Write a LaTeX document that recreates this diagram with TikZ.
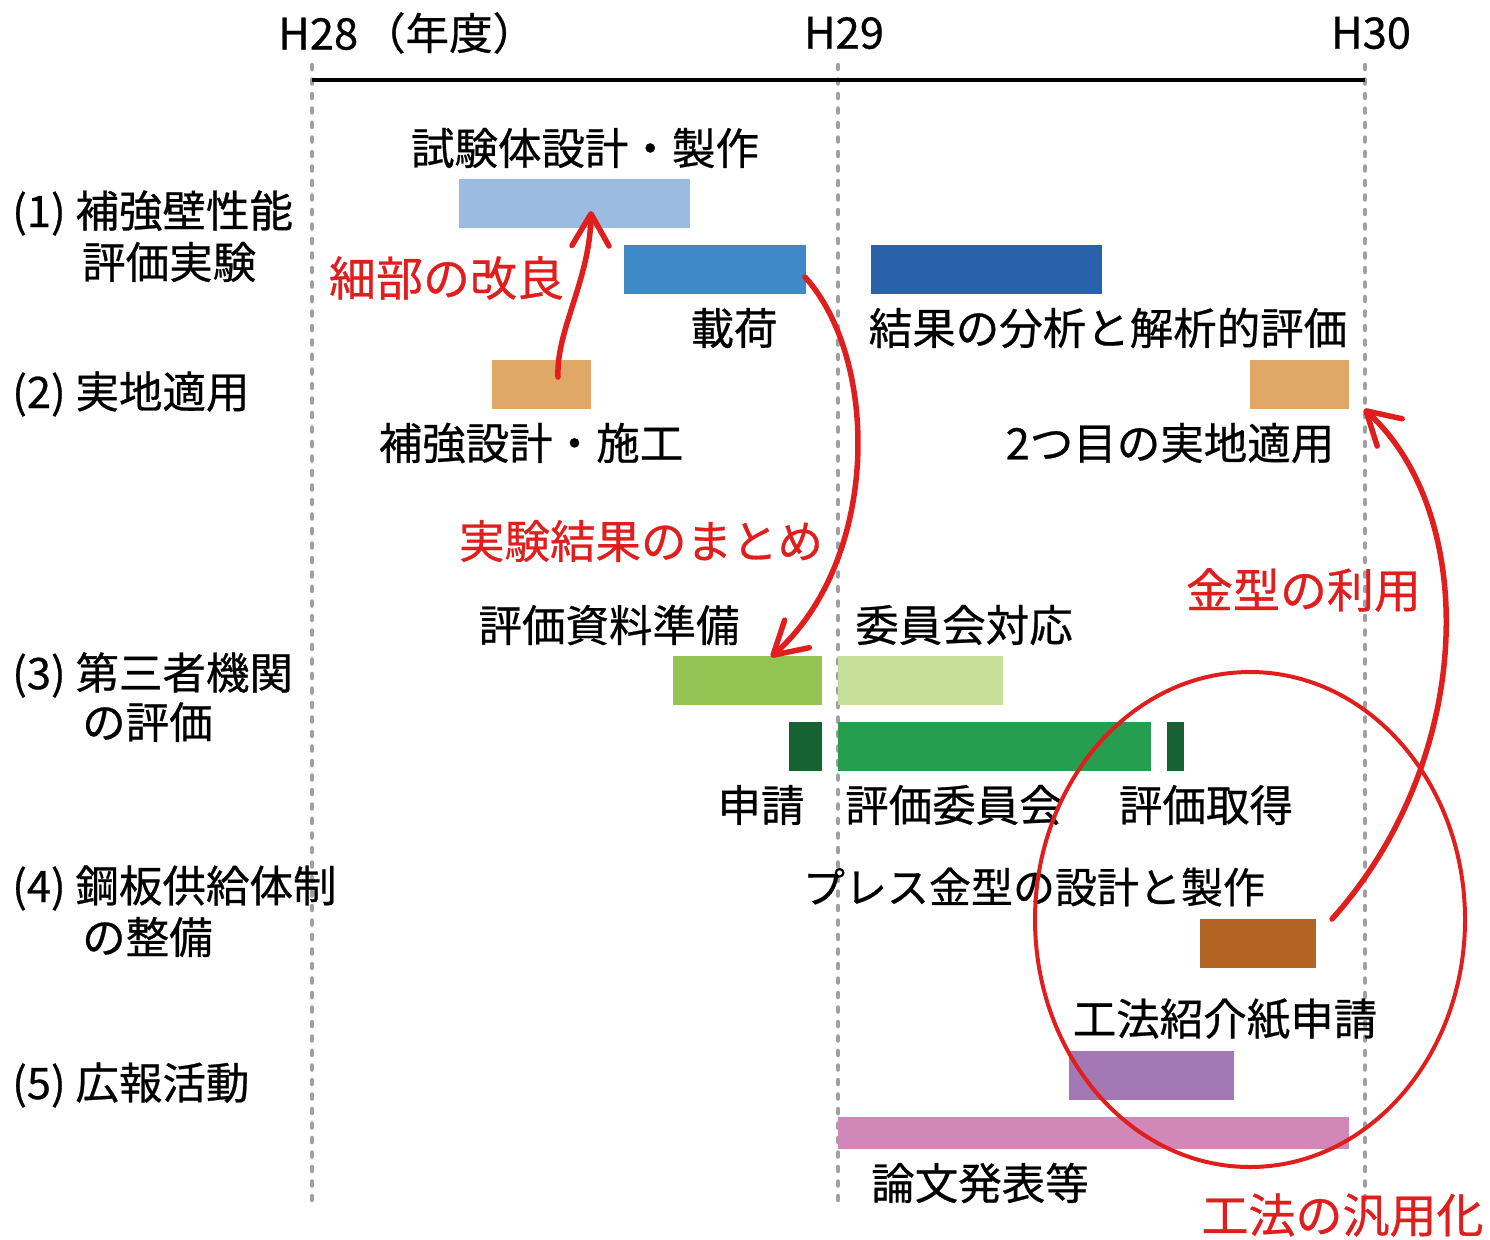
\documentclass[tikz,border=0pt]{standalone}
\usepackage{fontspec}
\newfontfamily\jp[FakeBold=0.6]{Noto Sans CJK JP}
\usetikzlibrary{arrows.meta}
\definecolor{cLightBlue}{RGB}{155,187,224}
\definecolor{cMidBlue}{RGB}{64,137,200}
\definecolor{cDarkBlue}{RGB}{41,97,171}
\definecolor{cOrange}{RGB}{224,168,102}
\definecolor{cGreen}{RGB}{146,195,83}
\definecolor{cLightGreen}{RGB}{197,223,152}
\definecolor{cDarkGreen}{RGB}{23,98,51}
\definecolor{cMidGreen}{RGB}{37,158,80}
\definecolor{cBrown}{RGB}{179,99,34}
\definecolor{cPurple}{RGB}{164,121,179}
\definecolor{cPink}{RGB}{209,136,184}
\definecolor{cRed}{RGB}{224,30,30}
\definecolor{cGrid}{RGB}{160,160,160}
\begin{document}
\begin{tikzpicture}[x=1pt,y=-1pt,
  lbl/.style={font=\jp\fontsize{43.5}{43.5}\selectfont, inner sep=0pt, text=black},
  rlbl/.style={font=\jp\fontsize{47}{47}\selectfont, inner sep=0pt, text=cRed},
  bar/.style={draw=none, inner sep=0pt, outer sep=0pt},
  grid/.style={draw=cGrid, line width=4.5pt, line cap=round, dash pattern=on 4pt off 10.5pt},
  redarrow/.style={draw=cRed, line width=5.5pt, line cap=round,
    -{Straight Barb[length=32pt, width=37pt, line width=5.5pt, round]}}]
\useasboundingbox (0,0) rectangle (1490,1239);

% year grid
\coordinate (g28t) at (312,65); \coordinate (g28b) at (312,1210);
\coordinate (g29t) at (838,65); \coordinate (g29b) at (838,1210);
\coordinate (g30t) at (1365,65); \coordinate (g30b) at (1365,1210);
\draw[grid] (g28t) -- (g28b);
\draw[grid] (g29t) -- (g29b);
\draw[grid] (g30t) -- (g30b);
\coordinate (axL) at (312,80); \coordinate (axR) at (1365,80);
\draw[line width=4pt, black] (axL) -- (axR);

\node[lbl, anchor=west] (h28) at (278,33) {H28\hspace{4pt}（年度）};
\node[lbl] (h29) at (844,33) {H29};
\node[lbl] (h30) at (1371,33) {H30};

% row labels
\node[lbl, anchor=west] (r1a) at (12,213) {(1) 補強壁性能};
\node[lbl, anchor=west] (r1b) at (82,262) {評価実験};
\node[lbl, anchor=west] (r2) at (12,394) {(2) 実地適用};
\node[lbl, anchor=west] (r3a) at (12,675) {(3) 第三者機関};
\node[lbl, anchor=west] (r3b) at (82,722) {の評価};
\node[lbl, anchor=west] (r4a) at (12,888) {(4) 鋼板供給体制};
\node[lbl, anchor=west] (r4b) at (82,937) {の整備};
\node[lbl, anchor=west] (r5) at (12,1085) {(5) 広報活動};

% bars
\node[bar, fill=cLightBlue, minimum width=231pt, minimum height=49pt] (b1) at (574.5,203.5) {};
\node[bar, fill=cMidBlue, minimum width=182pt, minimum height=49pt] (b2) at (715,269.5) {};
\node[bar, fill=cDarkBlue, minimum width=231pt, minimum height=49pt] (b3) at (986.5,269.5) {};
\node[bar, fill=cOrange, minimum width=99pt, minimum height=49pt] (b4) at (541.5,384.5) {};
\node[bar, fill=cOrange, minimum width=99pt, minimum height=49pt] (b5) at (1299.5,384.5) {};
\node[bar, fill=cGreen, minimum width=149pt, minimum height=49pt] (b6) at (747.5,680.5) {};
\node[bar, fill=cLightGreen, minimum width=165pt, minimum height=49pt] (b7) at (920.5,680.5) {};
\node[bar, fill=cDarkGreen, minimum width=33pt, minimum height=49pt] (b8) at (805.5,746.5) {};
\node[bar, fill=cMidGreen, minimum width=313pt, minimum height=49pt] (b9) at (994.5,746.5) {};
\node[bar, fill=cDarkGreen, minimum width=17pt, minimum height=49pt] (b10) at (1175.5,746.5) {};
\node[bar, fill=cBrown, minimum width=116pt, minimum height=49pt] (b11) at (1258,943.5) {};
\node[bar, fill=cPurple, minimum width=165pt, minimum height=49pt] (b12) at (1151.5,1075.5) {};
\node[bar, fill=cPink, minimum width=511pt, minimum height=32pt] (b13) at (1093.5,1133) {};

% bar labels
\node[lbl] (t1) at (585,148) {試験体設計・製作};
\node[lbl] (t2) at (734,328) {載荷};
\node[lbl] (t3) at (1108,328) {結果の分析と解析的評価};
\node[lbl] (t4) at (531,443) {補強設計・施工};
\node[lbl] (t5) at (1170,443) {2つ目の実地適用};
\node[lbl] (t6) at (609,625) {評価資料準備};
\node[lbl] (t7) at (964,625) {委員会対応};
\node[lbl] (t8) at (761,805) {申請};
\node[lbl] (t9) at (954,805) {評価委員会};
\node[lbl] (t10) at (1206,805) {評価取得};
\node[lbl, font=\jp\fontsize{42}{42}\selectfont] (t11) at (1034,887) {プレス金型の設計と製作};
\node[lbl] (t12) at (1225,1019) {工法紹介紙申請};
\node[lbl] (t13) at (980,1183) {論文発表等};

% red annotations
\node[rlbl] (n1) at (446.5,278) {細部の改良};
\node[rlbl, font=\jp\fontsize{45.5}{45.5}\selectfont] (n2) at (641,541) {実験結果のまとめ};
\node[rlbl] (n3) at (1303.5,590) {金型の利用};
\node[rlbl] (n4) at (1342.5,1215) {工法の汎用化};

% arrows
\coordinate (a1s) at (558,377); \coordinate (a1e) at (591,211);
\draw[redarrow] (a1s) .. controls (556,330) and (590,280) .. (a1e);
\coordinate (a2s) at (805,277); \coordinate (a2e) at (771,657);
\draw[redarrow] (a2s) .. controls (880,360) and (880,560) .. (a2e);
\coordinate (a3s) at (1332,919); \coordinate (a3e) at (1364,409);
\draw[redarrow] (a3s) .. controls (1475,760) and (1480,515) .. (a3e);

% ellipse
\coordinate (ec) at (1250,919.5);
\draw[cRed, line width=4pt] (ec) ellipse [x radius=215, y radius=247.5];
\end{tikzpicture}
\end{document}
